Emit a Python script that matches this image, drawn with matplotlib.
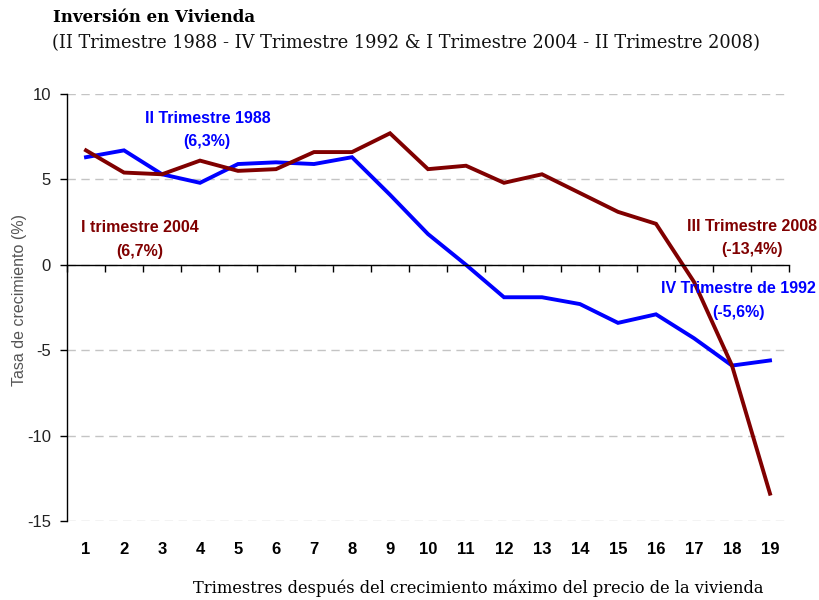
import matplotlib
matplotlib.use("Agg")
import matplotlib.pyplot as plt

quarters = list(range(1, 20))
serie_1988 = [6.3, 6.7, 5.3, 4.8, 5.9, 6.0, 5.9, 6.3, 4.1, 1.8, 0.0, -1.9, -1.9, -2.3, -3.4, -2.9, -4.3, -5.9, -5.6]
serie_2004 = [6.7, 5.4, 5.3, 6.1, 5.5, 5.6, 6.6, 6.6, 7.7, 5.6, 5.8, 4.8, 5.3, 4.2, 3.1, 2.4, -1.0, -5.9, -13.4]
yticks = [-15, -10, -5, 0, 5, 10]

title = "Inversión en Vivienda"
subtitle = "(II Trimestre 1988 - IV Trimestre 1992 & I Trimestre 2004 - II Trimestre 2008)"
xlabel = "Trimestres después del crecimiento máximo del precio de la vivienda"
ylabel = "Tasa de crecimiento (%)"

blue = "#0000FF"
red = "#800000"

fig = plt.figure(figsize=(8.19, 6), dpi=100)
ax = fig.add_axes([67/819, 1-521/600, (789-67)/819, (521-94)/600])

ax.plot(quarters, serie_1988, color=blue, lw=2.8, solid_joinstyle="miter", zorder=3)
ax.plot(quarters, serie_2004, color=red, lw=2.8, solid_joinstyle="miter", zorder=3)

ax.set_xlim(0.5, 19.5)
ax.set_ylim(-15, 10)

for s in ["top", "right"]:
    ax.spines[s].set_visible(False)
ax.spines["bottom"].set_position(("data", 0))
ax.spines["bottom"].set_zorder(4)
ax.spines["left"].set_linewidth(1.0)
ax.spines["bottom"].set_linewidth(1.0)

bounds = [q - 0.5 for q in quarters] + [quarters[-1] + 0.5]
ax.set_xticks(bounds)
ax.set_xticklabels([])
ax.tick_params(axis="x", direction="out", length=5, width=1, color="black")

ax.set_yticks(yticks)
ax.set_yticklabels([str(v) for v in yticks], fontsize=12, color="#222222", family="Liberation Sans")
ax.tick_params(axis="y", direction="out", length=5, width=1, pad=6.5)
ax.yaxis.grid(True, linestyle=(0, (6, 4)), color="#c4c4c4", lw=1)
ax.set_axisbelow(True)

sec = ax.secondary_xaxis("bottom")
sec.spines["bottom"].set_visible(False)
sec.set_xticks(quarters)
sec.set_xticklabels([str(q) for q in quarters], fontsize=12, fontweight="bold",
                    family="Liberation Sans")
sec.tick_params(axis="x", length=0, pad=15)

ann = dict(ha="center", va="center", fontsize=11.5, fontweight="bold", family="Liberation Sans")
ax.text(4.21, 8.54, "II Trimestre 1988", color=blue, **ann)
ax.text(4.19, 7.2, "(6,3%)", color=blue, **ann)
ax.text(2.42, 2.2, "I trimestre 2004", color=red, **ann)
ax.text(2.42, 0.8, "(6,7%)", color=red, **ann)
ax.text(18.53, 2.25, "III Trimestre 2008", color=red, **ann)
ax.text(18.53, 0.9, "(-13,4%)", color=red, **ann)
ax.text(18.18, -1.4, "IV Trimestre de 1992", color=blue, zorder=5, **ann)
ax.text(18.18, -2.77, "(-5,6%)", color=blue, zorder=5, **ann)

fig.text(53/819, 1-17/600, title, ha="left", va="center", fontsize=12,
         fontweight="bold", family="DejaVu Serif")
fig.text(52/819, 1-43/600, subtitle, ha="left", va="center", fontsize=12.8,
         family="DejaVu Serif", color="#111111")
fig.text(478/819, 1-588/600, xlabel, ha="center", va="center", fontsize=11.7,
         family="DejaVu Serif")
fig.text(20/819, 1-300/600, ylabel, ha="center", va="center", rotation=90,
         fontsize=11.5, color="#555555", family="Liberation Sans")

fig.savefig("out.png", dpi=100)
